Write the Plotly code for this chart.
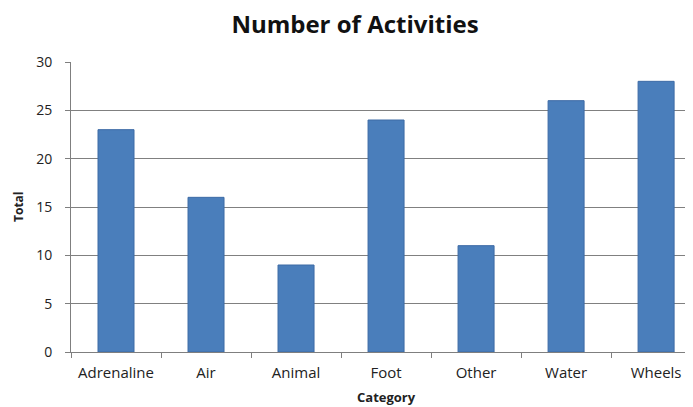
import plotly.graph_objects as go

categories = ["Adrenaline", "Air", "Animal", "Foot", "Other", "Water", "Wheels"]
totals = [23, 16, 9, 24, 11, 26, 28]
y_ticks = [0, 5, 10, 15, 20, 25, 30]

fig = go.Figure(go.Bar(
    x=categories, y=totals,
    marker=dict(color="#4a7ebb", line=dict(color="#3d6aa5", width=1)),
))

# page body has an 8px margin, so the figure is shifted by 8px; compensate here
W, H = 685, 399
L, T, B = 63, 54, 55
PW, PH = W - L, H - T - B

font_main = "Open Sans, Lato, sans-serif"
fig.update_layout(
    width=W, height=H,
    margin=dict(l=L, r=0, t=T, b=B, autoexpand=False),
    paper_bgcolor="white", plot_bgcolor="white",
    bargap=0.6,
    showlegend=False,
    title=dict(text="<b>Number of Activities</b>", x=347 / W, xanchor="center",
               y=1 - 17 / H, yanchor="middle",
               font=dict(family=font_main, size=24, color="#111111")),
    font=dict(family=font_main, size=15, color="#222222"),
    annotations=[
        dict(text="<b>Total</b>", xref="paper", yref="paper", x=(10 - L) / PW,
             y=0.5, xanchor="center", yanchor="middle", textangle=-90,
             showarrow=False, font=dict(family=font_main, size=12, color="#222222")),
        dict(text="<b>Category</b>", xref="paper", yref="paper", x=(378 - L) / PW,
             y=-(389 - (T + PH)) / PH, xanchor="center", yanchor="middle",
             showarrow=False, font=dict(family=font_main, size=13, color="#222222")),
    ],
)
fig.update_xaxes(
    type="category", range=[-0.5, 6.41], automargin=False,
    showline=True, linecolor="#7f7f7f", linewidth=1,
    ticks="outside", tickson="boundaries", ticklen=5, tickcolor="#7f7f7f",
    showgrid=False, ticklabelstandoff=7,
    tickfont=dict(size=15),
)
fig.update_yaxes(
    range=[0, 30], tickvals=y_ticks, automargin=False,
    showline=True, linecolor="#7f7f7f", linewidth=1,
    ticks="outside", ticklen=5, tickcolor="#7f7f7f",
    showgrid=True, gridcolor="#808080", gridwidth=1,
    zeroline=False, ticklabelstandoff=10,
    tickfont=dict(size=14),
)
fig.write_html("out.html")
